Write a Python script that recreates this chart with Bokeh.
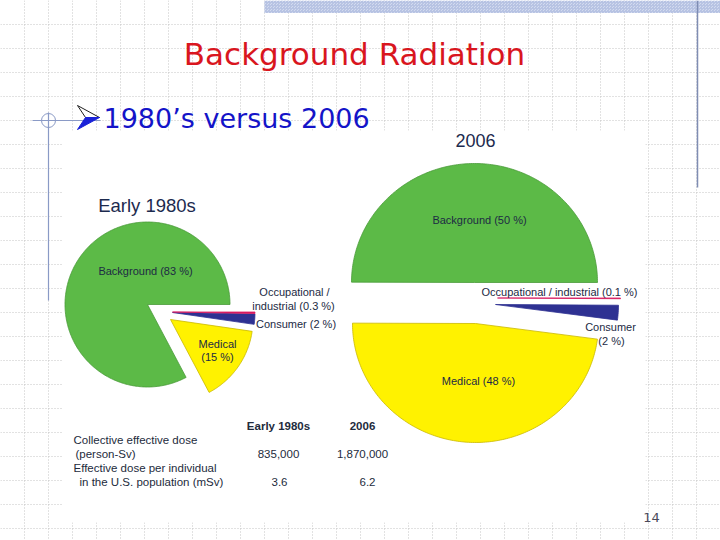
import numpy as np
from bokeh.plotting import figure
from bokeh.models import Range1d
from bokeh.core.properties import value
from bokeh.embed import file_html
from bokeh.resources import INLINE

# ---------------- data ----------------
categories = ["Background", "Medical", "Consumer", "Occupational / industrial"]
pct_1980s = [83, 15, 2, 0.3]
pct_2006 = [50, 48, 2, 0.1]
pie_titles = ["Early 1980s", "2006"]
table_columns = ["Early 1980s", "2006"]
collective_dose = [835000, 1870000]      # person-Sv
dose_per_individual = [3.6, 6.2]         # mSv
page_number = "14"

# ---------------- style / layout ----------------
slice_fill = ["#5cba47", "#fff200", "#2e3192", "#d81b60"]
slice_line = ["#4a9a3a", "#c9b800", "#2e3192", "#d81b60"]
label_color = "#1c2a44"
table_color = "#232b3c"
SANS = "Liberation Sans"

W, H = 720, 540
p = figure(width=W, height=H, output_backend="svg", toolbar_location=None,
           x_range=Range1d(0, W), y_range=Range1d(H, 0),
           min_border=0, outline_line_color=None,
           background_fill_color="white", border_fill_color="white")
p.axis.visible = False
p.xgrid.visible = False
p.ygrid.visible = False

# slide background grid (dotted)
gx = np.arange(24, 720, 24)
gy = np.arange(24, 540, 24)
p.segment(x0=gx, y0=[0] * len(gx), x1=gx, y1=[540] * len(gx),
          line_color="#c4c4c4", line_width=1, line_dash="1 2")
p.segment(x0=[0] * len(gy), y0=gy, x1=[720] * len(gy), y1=gy,
          line_color="#c4c4c4", line_width=1, line_dash="1 2")

# top hatched band
p.quad(left=[264], right=[720], top=[0], bottom=[12.5], fill_color="#d3dbef",
       line_color=None, hatch_pattern="criss_cross", hatch_color="#b7c3e3",
       hatch_scale=3, hatch_weight=1)
# right vertical rule
p.segment(x0=[697], y0=[0], x1=[697], y1=[187], line_color="#7f8db3", line_width=1.5)
# left decoration
p.segment(x0=[32], y0=[120], x1=[100], y1=[120], line_color="#8a9ac6", line_width=1.2)
p.segment(x0=[48], y0=[112], x1=[48], y1=[300], line_color="#8a9ac6", line_width=1.2)
p.scatter(x=[48], y=[120], size=14, marker="circle", fill_color=None,
          line_color="#8a9ac6", line_width=1)

# white chart image area
p.quad(left=[62], right=[645], top=[130], bottom=[522], fill_color="white", line_color=None)


def text(x, y, s, size, color, align="center", bold=False, font=SANS):
    p.text(x=[x], y=[y], text=[s], text_font=value(font), text_font_size=size,
           text_color=color, text_align=align, text_baseline="middle",
           text_font_style="bold" if bold else "normal")


# slide titles
text(354, 53, "Background Radiation", "31px", "#d9161e", font="DejaVu Sans")
# bullet arrowhead
p.patches(xs=[[77, 99, 85], [85, 99, 77]], ys=[[105, 117, 117], [117, 117, 129]],
          fill_color=["white", "#1a22d8"], line_color=["#202020", "#1a22d8"], line_width=1)
text(103, 118, "1980\u2019s versus 2006", "27px", "#1414c8", align="left", font="DejaVu Sans")


def pie(pcts, cx, cy, rx, ry, offsets):
    total = float(sum(pcts))
    a = 0.0
    xs, ys = [], []
    for v, (dx, dy) in zip(pcts, offsets):
        span = v / total * 360.0
        th = np.radians(np.linspace(a, a + span, max(3, int(span) + 2)))
        ox, oy = cx + dx, cy + dy
        xs.append(np.concatenate([[ox], ox + rx * np.cos(th)]))
        ys.append(np.concatenate([[oy], oy - ry * np.sin(th)]))
        a += span
    p.patches(xs=xs, ys=ys, fill_color=slice_fill, line_color=slice_line, line_width=0.8)


# Early 1980s pie
pie(pct_1980s, 147, 304, 82.5, 82.5, [(0, 0), (23, 15), (25, 8), (25, 7.5)])
# 2006 pie
pie(pct_2006, 474, 303, 123, 119, [(0, -21), (1, 20), (21, 1), (23, -5.5)])

fmt = lambda v: f"{v:g} %"
text(146.5, 205, pie_titles[0], "18.5px", "#1c2a4e")
text(475, 140, pie_titles[1], "18px", "#1c2a4e")

# 1980s labels
text(145, 270, f"{categories[0]} ({fmt(pct_1980s[0])})", "11px", label_color)
occ = categories[3].split(" / ")
text(294, 291, occ[0] + " /", "11px", label_color)
text(293, 305, f"{occ[1]} ({fmt(pct_1980s[3])})", "11px", label_color)
text(295.5, 323, f"{categories[2]} ({fmt(pct_1980s[2])})", "11px", label_color)
text(217, 343, categories[1], "11px", label_color)
text(217, 356, f"({fmt(pct_1980s[1])})", "11px", label_color)

# 2006 labels
text(479, 219, f"{categories[0]} ({fmt(pct_2006[0])})", "11px", label_color)
text(559, 291, f"{categories[3]} ({fmt(pct_2006[3])})", "11px", label_color)
text(610, 326, categories[2], "11px", label_color)
text(611, 340, f"({fmt(pct_2006[2])})", "11px", label_color)
text(478, 380, f"{categories[1]} ({fmt(pct_2006[1])})", "11px", label_color)

# table
col_x = [278, 362]
for cxx, name in zip(col_x, table_columns):
    text(cxx, 425, name, "11.5px", table_color, bold=True)
text(73, 439, "Collective effective dose", "11.5px", table_color, align="left")
text(75, 453, "(person-Sv)", "11.5px", table_color, align="left")
for cxx, v in zip(col_x, collective_dose):
    text(cxx, 453, f"{v:,}", "11.5px", table_color)
text(73, 467, "Effective dose per individual", "11.5px", table_color, align="left")
text(79, 481, "in the U.S. population (mSv)", "11.5px", table_color, align="left")
for cxx, v in zip([279, 367], dose_per_individual):
    text(cxx, 481, f"{v:g}", "11.5px", table_color)

text(651, 517, page_number, "13px", "#4a4a5a", font="DejaVu Sans")

open("out.html", "w").write(file_html(p, INLINE))
